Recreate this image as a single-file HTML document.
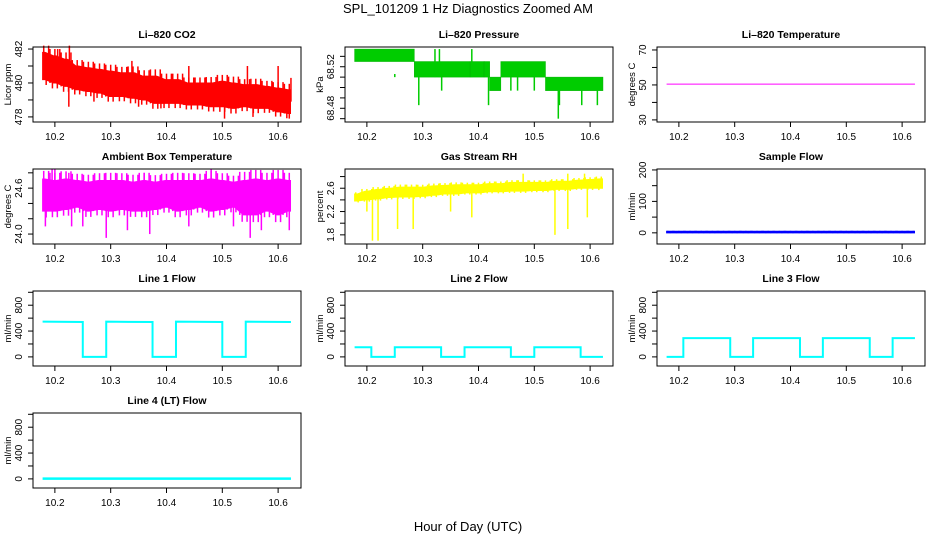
<!DOCTYPE html>
<html><head><meta charset="utf-8"><style>
html,body{margin:0;padding:0;background:#fff;width:936px;height:540px;overflow:hidden}
svg{display:block;font-family:"Liberation Sans",sans-serif}
</style></head><body>
<svg id="chart" width="936" height="540" viewBox="0 0 936 540">
<text x="468" y="13" text-anchor="middle" font-size="13">SPL_101209  1 Hz Diagnostics Zoomed AM</text>
<text x="468" y="531" text-anchor="middle" font-size="13">Hour of Day (UTC)</text>
</svg>
<script>
// ---- data ----
const xTicks = [10.2, 10.3, 10.4, 10.5, 10.6];
const xTickLabels = ["10.2", "10.3", "10.4", "10.5", "10.6"];
const bins = [10.18,10.20,10.22,10.24,10.26,10.28,10.30,10.32,10.34,10.36,10.38,10.40,10.42,10.44,10.46,10.48,10.50,10.52,10.54,10.56,10.58,10.60,10.62];

const co2Hi = [481.8,481.6,481.4,481.0,480.9,480.8,480.7,480.6,480.6,480.4,480.4,480.2,480.2,480.0,480.0,480.0,480.1,480.0,479.9,479.9,479.8,479.7,479.6];
const co2Lo = [480.2,480.0,479.8,479.6,479.5,479.4,479.2,479.2,479.1,479.0,478.8,478.8,478.8,478.7,478.7,478.6,478.6,478.5,478.6,478.5,478.5,478.3,478.2];
const co2SpikeX = [10.18,10.19,10.205,10.225,10.226,10.27,10.338,10.35,10.39,10.44,10.504,10.545,10.555,10.6,10.62,10.623];
const co2SpikeY = [481.8,482.0,482.0,478.6,482.2,478.9,481.3,478.6,478.5,481.0,477.9,481.0,478.0,481.0,477.9,480.3];

const presX0 = [10.178,10.285,10.385,10.41,10.42,10.44,10.52];
const presX1 = [10.285,10.385,10.41,10.42,10.44,10.52,10.623];
const presHi = [68.537,68.525,68.525,68.525,68.51,68.525,68.51];
const presLo = [68.525,68.51,68.51,68.51,68.497,68.51,68.497];
const presSpikeX = [10.195,10.22,10.224,10.25,10.275,10.293,10.322,10.33,10.334,10.388,10.418,10.458,10.47,10.5,10.543,10.545,10.585,10.613];
const presSpikeY = [68.51,68.51,68.51,68.513,68.51,68.483,68.537,68.537,68.497,68.537,68.483,68.497,68.497,68.497,68.47,68.483,68.483,68.483];

const tempX = [10.178, 10.623];
const tempY = [50.5, 50.5];

const ambHi = [24.72,24.7,24.72,24.7,24.68,24.7,24.7,24.7,24.68,24.7,24.68,24.7,24.7,24.7,24.7,24.72,24.7,24.68,24.7,24.72,24.7,24.72,24.7];
const ambLo = [24.3,24.3,24.32,24.35,24.3,24.32,24.3,24.32,24.3,24.3,24.32,24.35,24.3,24.32,24.35,24.3,24.32,24.35,24.25,24.25,24.3,24.25,24.3];
const ambSpikeX = [10.183,10.195,10.2,10.23,10.25,10.292,10.33,10.37,10.44,10.48,10.52,10.55,10.57,10.61,10.62,10.225,10.36];
const ambSpikeY = [24.1,24.85,24.85,24.1,24.1,23.95,24.05,24.0,24.1,24.85,24.1,23.95,24.05,24.8,24.05,24.8,24.8];

const rhHi = [2.5,2.55,2.58,2.6,2.62,2.62,2.62,2.64,2.65,2.66,2.66,2.66,2.68,2.68,2.7,2.7,2.7,2.7,2.72,2.72,2.74,2.75,2.76];
const rhLo = [2.38,2.4,2.42,2.44,2.45,2.45,2.46,2.48,2.5,2.5,2.52,2.52,2.54,2.54,2.55,2.55,2.56,2.56,2.58,2.58,2.6,2.6,2.6];
const rhSpikeX = [10.21,10.22,10.255,10.283,10.35,10.388,10.48,10.537,10.56,10.595,10.56,10.59,10.2];
const rhSpikeY = [1.7,1.7,1.9,1.9,2.2,2.1,2.85,1.8,1.9,2.1,2.85,2.85,2.2];

const sampleHi = [5,5,5,5,5,5,5,5,5,5,5,5,5,5,5,5,5,5,5,5,5,5,5];
const sampleLo = [0,0,0,0,0,0,0,0,0,0,0,0,0,0,0,0,0,0,0,0,0,0,0];

const line1X = [10.178,10.25,10.25,10.292,10.292,10.375,10.375,10.417,10.417,10.5,10.5,10.542,10.542,10.623];
const line1Y = [545,540,0,0,545,540,0,0,545,540,0,0,545,540];
const line2X = [10.178,10.208,10.208,10.25,10.25,10.333,10.333,10.375,10.375,10.458,10.458,10.5,10.5,10.583,10.583,10.623];
const line2Y = [150,150,0,0,150,150,0,0,150,150,0,0,150,150,0,0];
const line3X = [10.178,10.208,10.208,10.292,10.292,10.333,10.333,10.417,10.417,10.458,10.458,10.542,10.542,10.583,10.583,10.623];
const line3Y = [0,0,290,290,0,0,290,290,0,0,290,290,0,0,290,290];
const line4X = [10.178, 10.623];
const line4Y = [5, 5];

// ---- drawing ----
const NS = "http://www.w3.org/2000/svg";
const svg = document.getElementById('chart');
function mk(tag, attrs, parent) {
  const e = document.createElementNS(NS, tag);
  for (const k in attrs) e.setAttribute(k, attrs[k]);
  (parent || svg).appendChild(e);
  return e;
}
const XMIN = 10.1608, XMAX = 10.641;
function panel(col, row, cfg) {
  const L = 33 + 312 * col, R = 301 + 312 * col;
  const T = 47 + 122 * row, B = 122 + 122 * row;
  const g = mk('g', {});
  
  
  const sx = v => L + (v - XMIN) / (XMAX - XMIN) * (R - L);
  const sy = v => B - (v - cfg.ymin) / (cfg.ymax - cfg.ymin) * (B - T);
  const t = mk('text', {x: (L + R) / 2, y: T - 9, 'text-anchor': 'middle', 'font-size': 10.5, 'font-weight': 'bold'}, g);
  t.textContent = cfg.title;
  
  
  const yl = mk('text', {transform: `translate(${L - 22},${(T + B) / 2}) rotate(-90)`, 'text-anchor': 'middle', 'font-size': 9.5}, g);
  yl.textContent = cfg.ylab;
  
  
  const plot = mk('g', {}, g);
  
  
  cfg.draw(plot, sx, sy);
  const box = mk('rect', {x: L, y: T, width: R - L, height: B - T, fill: 'none', stroke: '#000', 'stroke-width': 1}, g);
  
  
  xTicks.forEach((v, i) => {
    const x = sx(v);
    mk('line', {x1: x, x2: x, y1: B, y2: B + 5, stroke: '#000'}, g);
    const tl = mk('text', {x: x, y: B + 18, 'text-anchor': 'middle', 'font-size': 10}, g);
    tl.textContent = xTickLabels[i];
    
    
  });
  cfg.yticks.forEach(v => {
    const y = sy(v);
    mk('line', {x1: L - 5, x2: L, y1: y, y2: y, stroke: '#000'}, g);
  });
  cfg.ylabels.forEach((s, i) => {
    const y = sy(cfg.ylabelVals[i]);
    const tl = mk('text', {transform: `translate(${L - 11},${y}) rotate(-90)`, 'text-anchor': 'middle', 'font-size': 10}, g);
    tl.textContent = s;
    
    
  });
}
function band(p, sx, sy, hi, lo, color, spX, spY) {
  let pts = [];
  bins.forEach((b, i) => pts.push(sx(Math.max(b - 0.0022, 10.178)) + ',' + sy(hi[i]), sx(Math.min(b + 0.0022, 10.623)) + ',' + sy(hi[i])));
  for (let i = bins.length - 1; i >= 0; i--) pts.push(sx(Math.min(bins[i] + 0.0022, 10.623)) + ',' + sy(lo[i]), sx(Math.max(bins[i] - 0.0022, 10.178)) + ',' + sy(lo[i]));
  mk('polygon', {points: pts.join(' '), fill: color, stroke: color, 'stroke-width': 1}, p);
  // vertical jitter lines within each bin from hi/lo
  bins.forEach((b, i) => {
    for (let k = -4; k <= 4; k += 2) {
      const x = b + k * 0.0022;
      if (x < 10.178 || x > 10.623) continue;
      const j = (k % 4 === 0) ? 1 : 0;
      const top = hi[i] + (hi[i] - lo[i]) * 0.25 * j;
      mk('line', {x1: sx(x), x2: sx(x), y1: sy(top), y2: sy(lo[i] - (hi[i] - lo[i]) * 0.2 * (1 - j)), stroke: color, 'stroke-width': 1.5}, p);
    }
  });
  if (spX) spX.forEach((x, i) => {
    const k = Math.min(bins.length - 1, Math.max(0, Math.round((x - 10.18) / 0.02)));
    const mid = (hi[k] + lo[k]) / 2;
    mk('line', {x1: sx(x), x2: sx(x), y1: sy(mid), y2: sy(spY[i]), stroke: color, 'stroke-width': 1.5}, p);
  });
}
function steps(p, sx, sy, X, Y, color, w) {
  mk('polyline', {points: X.map((x, i) => sx(x) + ',' + sy(Y[i])).join(' '), fill: 'none', stroke: color, 'stroke-width': w}, p);
}
const flowTicks = [0, 200, 400, 600, 800, 1000];
panel(0, 0, {name: 'panel-co2', title: 'Li\u2013820 CO2', ylab: 'Licor ppm', ymin: 477.7, ymax: 482.12,
  yticks: [478, 479, 480, 481, 482], ylabels: ['478', '480', '482'], ylabelVals: [478, 480, 482],
  draw: (p, sx, sy) => band(p, sx, sy, co2Hi, co2Lo, '#ff0000', co2SpikeX, co2SpikeY)});
panel(1, 0, {name: 'panel-pressure', title: 'Li\u2013820 Pressure', ylab: 'kPa', ymin: 68.4668, ymax: 68.539,
  yticks: [68.47, 68.48, 68.49, 68.50, 68.51, 68.52, 68.53], ylabels: ['68.48', '68.52'], ylabelVals: [68.48, 68.52],
  draw: (p, sx, sy) => {
    presX0.forEach((x0, i) => mk('rect', {x: sx(x0), y: sy(presHi[i]), width: sx(presX1[i]) - sx(x0), height: sy(presLo[i]) - sy(presHi[i]), fill: '#00cc00', stroke: '#00b000', 'stroke-width': 0.5}, p));
    presSpikeX.forEach((x, i) => mk('line', {x1: sx(x), x2: sx(x), y1: sy(68.51), y2: sy(presSpikeY[i]), stroke: '#00cc00', 'stroke-width': 1.5}, p));
  }});
panel(2, 0, {name: 'panel-li820-temperature', title: 'Li\u2013820 Temperature', ylab: 'degrees C', ymin: 28.8, ymax: 71.7,
  yticks: [30, 40, 50, 60, 70], ylabels: ['30', '50', '70'], ylabelVals: [30, 50, 70],
  draw: (p, sx, sy) => steps(p, sx, sy, tempX, tempY, '#ff00ff', 1)});
panel(0, 1, {name: 'panel-ambient-temperature', title: 'Ambient Box Temperature', ylab: 'degrees C', ymin: 23.87, ymax: 24.85,
  yticks: [24.0, 24.2, 24.4, 24.6, 24.8], ylabels: ['24.0', '24.6'], ylabelVals: [24.0, 24.6],
  draw: (p, sx, sy) => band(p, sx, sy, ambHi, ambLo, '#ff00ff', ambSpikeX, ambSpikeY)});
panel(1, 1, {name: 'panel-gas-rh', title: 'Gas Stream RH', ylab: 'percent', ymin: 1.643, ymax: 2.93,
  yticks: [1.8, 2.0, 2.2, 2.4, 2.6, 2.8], ylabels: ['1.8', '2.2', '2.6'], ylabelVals: [1.8, 2.2, 2.6],
  draw: (p, sx, sy) => band(p, sx, sy, rhHi, rhLo, '#ffff00', rhSpikeX, rhSpikeY)});
panel(2, 1, {name: 'panel-sample-flow', title: 'Sample Flow', ylab: 'ml/min', ymin: -35.5, ymax: 203,
  yticks: [0, 50, 100, 150, 200], ylabels: ['0', '100', '200'], ylabelVals: [0, 100, 200],
  draw: (p, sx, sy) => band(p, sx, sy, sampleHi, sampleLo, '#0000ff', null, null)});
panel(0, 2, {name: 'panel-line1-flow', title: 'Line 1 Flow', ylab: 'ml/min', ymin: -141, ymax: 1020,
  yticks: flowTicks, ylabels: ['0', '400', '800'], ylabelVals: [0, 400, 800],
  draw: (p, sx, sy) => steps(p, sx, sy, line1X, line1Y, '#00ffff', 2)});
panel(1, 2, {name: 'panel-line2-flow', title: 'Line 2 Flow', ylab: 'ml/min', ymin: -141, ymax: 1020,
  yticks: flowTicks, ylabels: ['0', '400', '800'], ylabelVals: [0, 400, 800],
  draw: (p, sx, sy) => steps(p, sx, sy, line2X, line2Y, '#00ffff', 2)});
panel(2, 2, {name: 'panel-line3-flow', title: 'Line 3 Flow', ylab: 'ml/min', ymin: -141, ymax: 1020,
  yticks: flowTicks, ylabels: ['0', '400', '800'], ylabelVals: [0, 400, 800],
  draw: (p, sx, sy) => steps(p, sx, sy, line3X, line3Y, '#00ffff', 2)});
panel(0, 3, {name: 'panel-line4-flow', title: 'Line 4 (LT) Flow', ylab: 'ml/min', ymin: -141, ymax: 1020,
  yticks: flowTicks, ylabels: ['0', '400', '800'], ylabelVals: [0, 400, 800],
  draw: (p, sx, sy) => steps(p, sx, sy, line4X, line4Y, '#00ffff', 2.5)});
</script>
</body></html>
